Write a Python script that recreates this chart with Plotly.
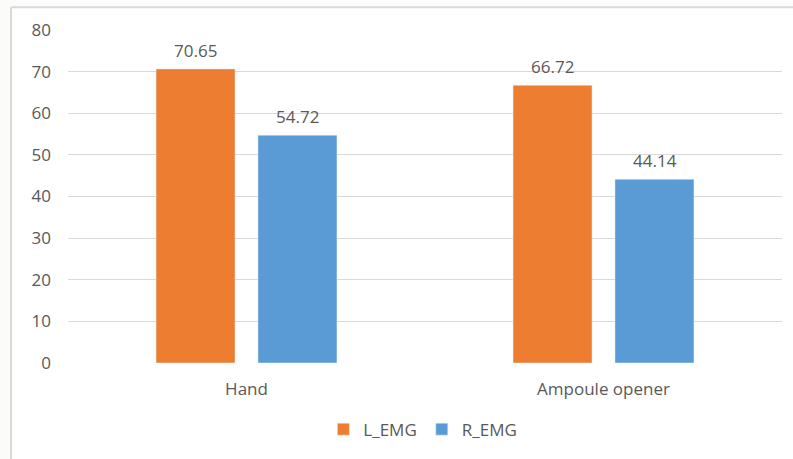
import plotly.graph_objects as go

categories = ["Hand", "Ampoule opener"]
l_emg = [70.65, 66.72]
r_emg = [54.72, 44.14]
y_ticks = [0, 10, 20, 30, 40, 50, 60, 70, 80]

ORANGE = "#ED7D31"
BLUE = "#5B9BD5"
TEXT = "#595959"
GRID = "#D9D9D9"
FONT = "Open Sans"

fig = go.Figure()
fig.add_trace(go.Bar(name="L_EMG", x=categories, y=l_emg, marker_color=ORANGE))
fig.add_trace(go.Bar(name="R_EMG", x=categories, y=r_emg, marker_color=BLUE))

# value labels above each bar
for vals, shift in ((l_emg, -51), (r_emg, 51)):
    for cat, v in zip(categories, vals):
        fig.add_annotation(
            x=cat, y=v, text=f"{v:.2f}", showarrow=False,
            xref="x", yref="y", yanchor="bottom", xshift=shift, yshift=5,
            font=dict(family=FONT, size=17, color=TEXT),
        )

# chart frame: light border on top and left edge
frame = dict(type="line", xref="paper", yref="paper", line=dict(color=GRID, width=2))
fig.add_shape(x0=-0.0798, x1=-0.0798, y0=1.0685, y1=-0.30, **frame)
fig.add_shape(x0=-0.0798, x1=1.02, y0=1.0685, y1=1.0685, **frame)
fig.add_shape(type="rect", xref="paper", yref="paper", x0=-0.1, x1=-0.0812, y0=-0.3, y1=1.1,
              fillcolor="#FBFBF9", line_width=0, layer="below")
fig.add_shape(type="rect", xref="paper", yref="paper", x0=-0.1, x1=1.02, y0=1.0715, y1=1.1,
              fillcolor="#FBFBF9", line_width=0, layer="below")

fig.update_layout(
    width=793, height=459,
    margin=dict(l=68, r=11, t=30, b=93),
    paper_bgcolor="white", plot_bgcolor="white",
    barmode="group", bargap=0.429, bargroupgap=0.225,
    font=dict(family=FONT, size=17, color=TEXT),
    showlegend=True,
    legend=dict(
        orientation="h", x=0.497, xanchor="center", y=-0.2, yanchor="middle",
        font=dict(family=FONT, size=17, color=TEXT), itemwidth=30,
        traceorder="normal",
    ),
    xaxis=dict(showgrid=False, showline=False, zeroline=False, ticks="",
               ticklabelstandoff=14, tickfont=dict(size=17, color=TEXT)),
    yaxis=dict(range=[0, 80], tickvals=y_ticks, showgrid=True, gridcolor=GRID, gridwidth=1,
               zeroline=False, showline=False, ticks="", ticklabelstandoff=16,
               tickfont=dict(size=17, color=TEXT)),
)

fig.write_html("out.html")
